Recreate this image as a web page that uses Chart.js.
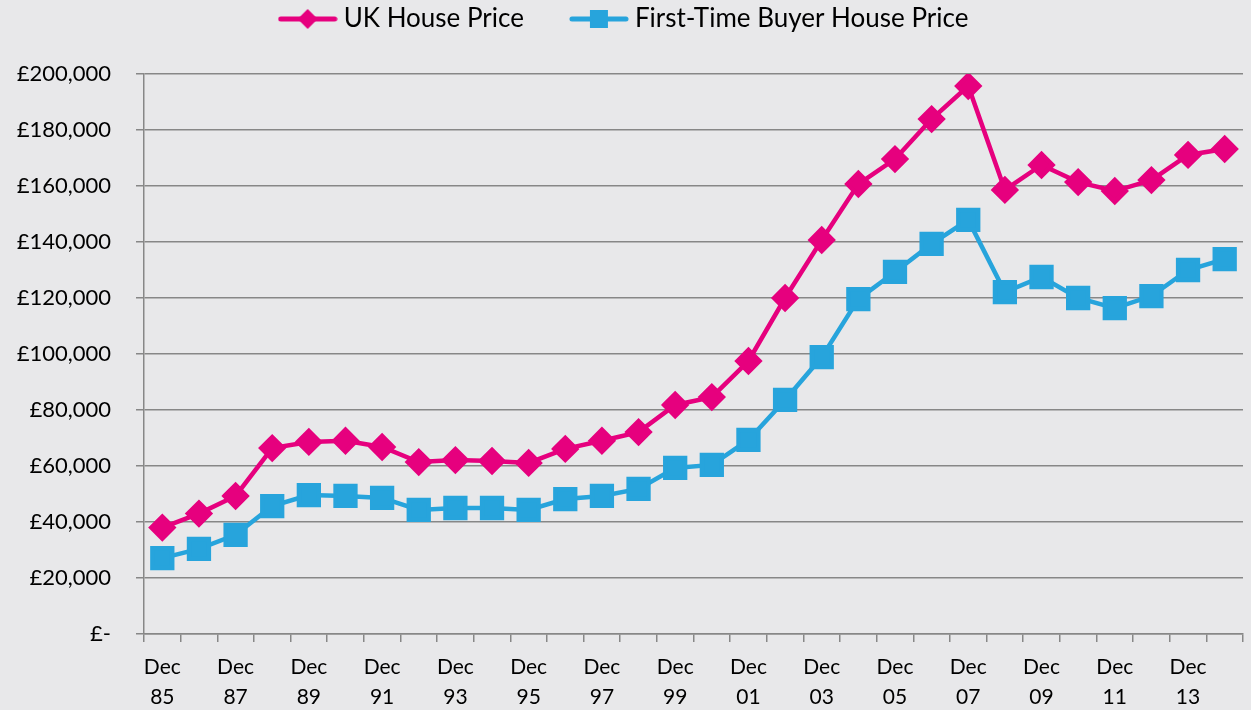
<!DOCTYPE html>
<html>
<head>
<meta charset="utf-8">
<script src="https://cdn.jsdelivr.net/npm/chart.js@4"></script>
<style>
  html, body { margin: 0; padding: 0; background: #e8e8ea; }
  #wrap { width: 1251px; height: 710px; }
</style>
</head>
<body>
<div id="wrap"><canvas id="house-chart"></canvas></div>
<script>
const years = ["85","86","87","88","89","90","91","92","93","94","95","96","97","98","99",
               "00","01","02","03","04","05","06","07","08","09","10","11","12","13","14"]
const ukPrice = [38000, 43000, 49300, 66400, 68600, 69000, 66800, 61400, 62100, 61800,
                 61100, 66100, 69000, 72100, 81800, 84600, 97500, 120000, 140700, 160700,
                 169600, 183900, 195700, 158600, 167500, 161400, 158200, 162100, 171100, 173200]
const ftbPrice = [27100, 30400, 35400, 45700, 49600, 49300, 48600, 44300, 45000, 45000,
                  44300, 48200, 49300, 51800, 59300, 60400, 69300, 83600, 98900, 119600,
                  129300, 139300, 147900, 122100, 127500, 120000, 116400, 120700, 130000, 133900]

const PINK = "#e6007e"
const BLUE = "#27a4dc"
const GRID = "#878787"
const FONT = "Lato"
const LEG_PAD = 52
const TOP_PAD = -46
const LEFT_PAD = 10
const PLOT_TOP = 74
const PLOT_LEFT = 144

// legend symbol: short line with the marker on top
function legendIcon(color, shape) {
    let c = document.createElement("canvas")
    c.width = 60
    c.height = 24
    let x = c.getContext("2d")
    x.strokeStyle = color
    x.fillStyle = color
    x.lineWidth = 5
    x.lineCap = "round"
    x.beginPath()
    x.moveTo(3, 12)
    x.lineTo(57, 12)
    x.stroke()
    x.beginPath()
    if (shape === "diamond") {
        x.moveTo(30, 2); x.lineTo(40, 12); x.lineTo(30, 22); x.lineTo(20, 12)
    } else {
        x.rect(21, 3, 18, 18)
    }
    x.fill()
    return c
}
const icons = [legendIcon(PINK, "diamond"), legendIcon(BLUE, "square")]

// make the legend box end exactly where the plot starts
const legendHeight = {
    id: "legendHeight",
    beforeInit(chart) {
        let fit = chart.legend.fit
        chart.legend.fit = function () {
            fit.bind(chart.legend)()
            this.height = PLOT_TOP - TOP_PAD
        }
    }
}

let ctx = document.getElementById("house-chart").getContext("2d")
let chart = new Chart(ctx, {
    type: "line",
    data: {
        labels: years,
        datasets: [{
            label: "UK House Price",
            data: ukPrice,
            borderColor: PINK,
            backgroundColor: PINK,
            borderWidth: 4.5,
            pointStyle: "rectRot",
            pointRadius: 11,
            pointHoverRadius: 11,
            tension: 0
        }, {
            label: "First-Time Buyer House Price",
            data: ftbPrice,
            borderColor: BLUE,
            backgroundColor: BLUE,
            borderWidth: 4.5,
            pointStyle: "rect",
            pointRadius: 14,
            pointHoverRadius: 14,
            tension: 0
        }]
    },
    plugins: [legendHeight],
    options: {
        responsive: true,
        maintainAspectRatio: false,
        animation: false,
        layout: {
            autoPadding: false,
            padding: { top: TOP_PAD, right: 8, left: LEFT_PAD, bottom: 0 }
        },
        plugins: {
            tooltip: { enabled: false },
            legend: {
                position: "top",
                labels: {
                    usePointStyle: true,
                    pointStyleWidth: 46,
                    padding: LEG_PAD,
                    color: "#000",
                    font: { family: FONT, size: 26 },
                    generateLabels: (ch) => {
                        let items = Chart.defaults.plugins.legend.labels.generateLabels(ch)
                        items.forEach((it, i) => { it.pointStyle = icons[i] })
                        return items
                    }
                }
            }
        },
        scales: {
            x: {
                type: "category",
                offset: true,
                grid: {
                    offset: true,
                    drawOnChartArea: false,
                    drawTicks: true,
                    tickLength: 8,
                    color: GRID,
                    lineWidth: 1.5
                },
                border: { color: GRID, width: 1.5 },
                ticks: {
                    autoSkip: false,
                    maxRotation: 0,
                    padding: 10,
                    color: "#000",
                    font: { family: FONT, size: 21, lineHeight: 1.43 },
                    callback: (v, i) => (i % 2 === 0) ? ["Dec", years[i]] : ""
                },
                afterFit: (s) => {
                    s.height = 76
                    s.paddingRight = 0
                }
            },
            y: {
                min: 0,
                max: 200000,
                grid: {
                    color: GRID,
                    lineWidth: 1.5,
                    tickLength: 8
                },
                border: { color: GRID, width: 1.5 },
                ticks: {
                    stepSize: 20000,
                    padding: 25,
                    color: "#000",
                    font: { family: FONT, size: 22 },
                    callback: (v) => v === 0 ? "£-" : "£" + v.toLocaleString("en-GB")
                },
                afterFit: (s) => { s.width = PLOT_LEFT - LEFT_PAD }
            }
        }
    }
})
</script>
</body>
</html>
